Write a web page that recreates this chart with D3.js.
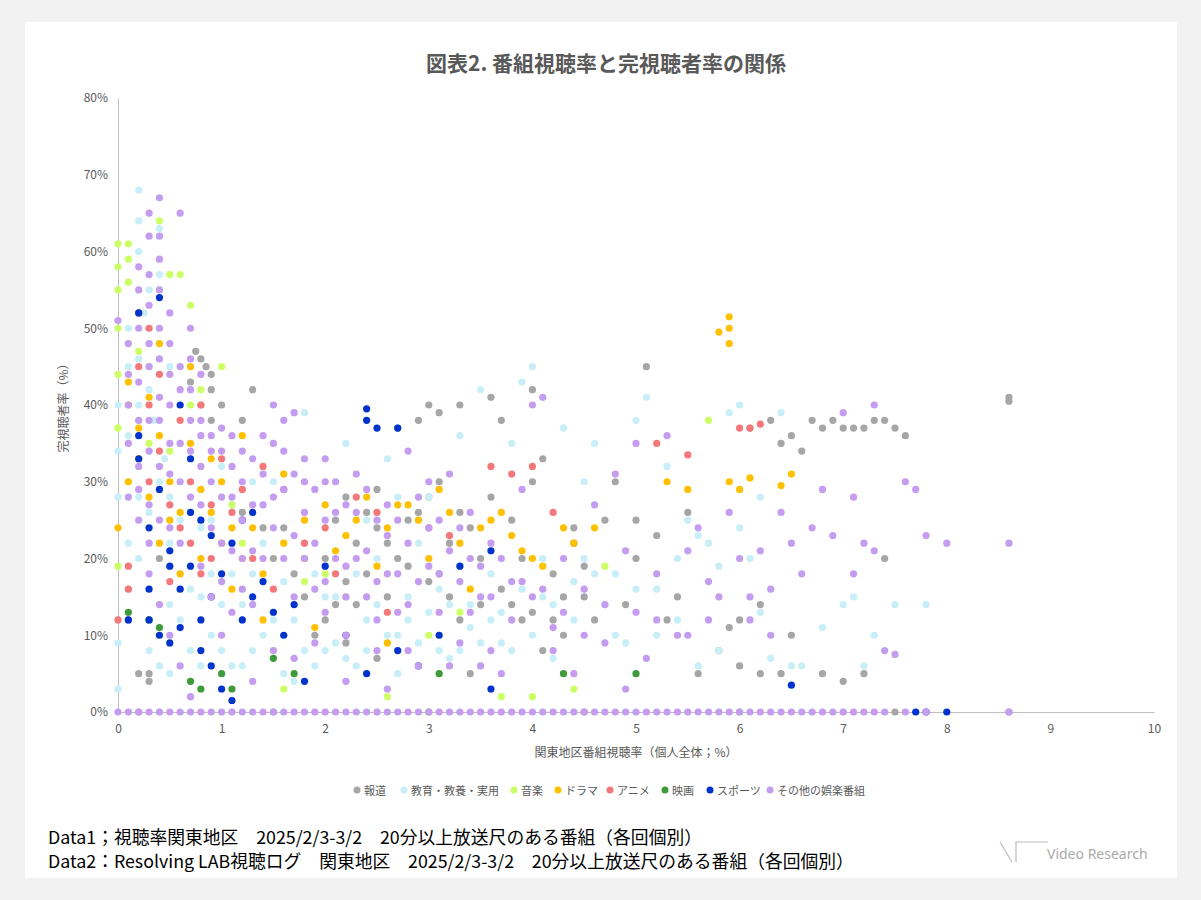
<!DOCTYPE html>
<html><head><meta charset="utf-8">
<script src="https://cdn.jsdelivr.net/npm/d3@7"></script>
<style>
body{margin:0;background:#f2f2f2;font-family:"Noto Sans CJK JP","Noto Sans",sans-serif;}
</style></head><body>
<svg id="c" width="1201" height="900"></svg>
<script>
// values: [viewing rate %, completion rate %]
var news = [[0.1,12],[0.2,5],[0.3,5],[0.3,4],[0.4,20],[0.8,46],[0.85,45],[0.9,44],[0.9,42],[0.7,43],[0.75,47],[1.2,26],[1.2,38],[1.3,42],[1.5,20],[1.8,15],[2.0,12],[2.1,25],[2.2,28],[2.3,22],[2.4,18],[2.5,29],[2.6,15],[2.7,37],[2.8,25],[2.9,38],[3.0,40],[3.1,39],[3.1,30],[3.2,15],[3.3,40],[3.5,20],[3.6,41],[3.7,38],[3.8,25],[3.9,12],[4.0,42],[4.0,30],[4.1,33],[4.2,18],[4.3,10],[4.4,24],[4.5,15],[4.7,25],[4.8,30],[4.9,14],[5.0,20],[5.1,45],[5.2,23],[5.3,12],[5.5,26],[5.6,5],[5.8,8],[6.0,6],[6.1,37],[6.3,38],[6.4,35],[6.5,36],[6.6,34],[6.7,38],[6.8,37],[6.9,38],[7.0,37],[7.1,37],[7.2,37],[7.3,38],[7.4,38],[7.5,37],[7.6,36],[7.0,4],[7.2,5],[6.8,5],[6.5,10],[8.6,40.5],[8.6,41],[3.4,5],[2.5,7],[3.0,17],[3.2,22],[2.3,14],[3.6,28],[4.1,8],[2.0,20],[1.9,10],[2.8,19],[3.3,12],[4.6,12],[5.4,15],[6.2,14],[6.4,5],[7.4,20],[2.2,9],[1.6,24],[1.0,40],
  [2.4,26],[2.5,24],[2.6,22],[2.7,20],[2.9,26],[3.0,28],[3.1,18],[3.3,26],[3.4,24],[3.5,14],[3.7,16],[3.8,14],[3.9,20],[4.0,13],[4.2,12],[4.3,15],[4.4,22],[4.5,19],[2.1,14],[2.2,17],[1.4,24],[1.7,18],[0.9,38],[0.8,40],[6.0,12],[6.2,5],[5.0,25],[5.9,11]];
var edu = [[0,3],[0,9],[0,12],[0,28],[0,34],[0,40],[0.1,45],[0.1,50],[0.1,56],[0.2,68],[0.2,64],[0.2,60],[0.25,52],[0.3,48],[0.3,42],[0.35,38],[0.4,63],[0.4,57],[0.45,33],[0.5,28],[0.5,22],[0.6,18],[0.6,12],[0.7,8],[0.7,4],[0.8,15],[0.9,25],[0.9,10],[1.0,32],[1.1,18],[1.1,6],[1.2,14],[1.3,8],[1.4,22],[1.5,30],[1.6,5],[1.7,12],[1.8,39],[1.9,18],[2.0,8],[2.1,15],[2.2,35],[2.3,6],[2.4,12],[2.5,20],[2.6,33],[2.7,10],[2.8,15],[2.9,22],[3.0,28],[3.1,8],[3.2,14],[3.3,36],[3.4,11],[3.5,42],[3.6,18],[3.7,9],[3.8,35],[3.9,43],[4.0,45],[4.1,15],[4.2,7],[4.3,37],[4.4,12],[4.5,20],[4.6,35],[4.7,14],[4.8,18],[4.9,9],[5.0,38],[5.1,41],[5.2,16],[5.3,32],[5.4,12],[5.6,6],[5.7,22],[5.8,8],[5.9,39],[6.0,40],[6.1,20],[6.2,13],[6.3,7],[6.4,39],[6.6,6],[6.8,11],[7.0,14],[7.1,15],[7.3,10],[7.5,14],[7.8,14],[2.4,25],[3.3,19],[3.6,12],[1.3,30],[2.7,28],[4.5,30],[5.5,25],
  [0.1,36],[0.1,30],[0.1,22],[0.1,16],[0.2,46],[0.2,40],[0.2,28],[0.2,20],[0.3,55],[0.3,34],[0.3,26],[0.3,8],[0.4,48],[0.4,30],[0.4,6],[0.5,45],[0.5,14],[0.5,5],[0.6,35],[0.6,25],[0.7,30],[0.7,16],[0.8,24],[0.8,6],[0.9,18],[1.0,14],[1.0,8],[1.1,27],[1.2,6],[1.3,18],[1.4,10],[1.5,12],[1.6,17],[1.7,4],[1.8,8],[1.9,6],[2.0,15],[2.1,9],[2.2,7],[2.3,18],[2.4,8],[2.5,14],[2.6,10],[2.7,5],[2.8,12],[2.9,9],[3.0,13],[3.1,16],[3.2,7],[3.3,8],[3.4,14],[3.5,9],[3.7,13],[3.8,8],[3.9,16],[4.0,10],[4.1,20],[4.2,14],[4.4,17],[4.6,18],[4.8,10],[5.0,16],[5.2,10],[5.4,20],[5.6,23],[5.8,19],[6.0,24],[6.2,28],[6.5,6],[7.2,6]];
var music = [[0,61],[0,58],[0,55],[0,50],[0,44],[0,37],[0,19],[0.1,61],[0.1,59],[0.1,56],[0.2,47],[0.3,35],[0.4,64],[0.5,57],[0.6,57],[0.7,53],[0.8,42],[1.0,45],[1.1,27],[1.5,8],[1.6,3],[2.0,18],[2.6,2],[3.0,10],[3.7,2],[4.0,2],[4.4,3],[4.7,19],[5.7,38],[0.2,38],[0.3,45],[0.5,34],[0.7,40],[1.2,22],[1.8,17],[2.2,15],[3.3,13]];
var drama = [[0,24],[0.1,43],[0.1,30],[0.2,37],[0.3,28],[0.4,48],[0.4,36],[0.5,25],[0.6,18],[0.7,45],[0.8,29],[0.9,33],[1.0,22],[1.1,16],[1.2,36],[1.3,24],[1.4,12],[1.6,31],[1.8,20],[2.0,27],[2.2,23],[2.4,28],[2.5,19],[2.7,27],[2.9,25],[3.1,29],[3.3,22],[3.5,24],[3.7,26],[3.9,21],[4.1,19],[4.3,24],[4.6,24],[5.3,30],[5.5,29],[5.8,49.5],[5.9,51.5],[5.9,50],[5.9,48],[5.9,30],[6.0,29],[6.1,30.5],[6.4,29.5],[6.5,31],[1.9,11],[2.6,9],[3.4,16],
  [0.1,40],[0.2,33],[0.3,41],[0.4,22],[0.5,30],[0.6,26],[0.7,35],[0.8,20],[0.9,26],[1.0,30],[1.1,24],[1.2,20],[1.4,18],[1.6,22],[1.8,25],[2.1,21],[2.3,25],[2.6,24],[2.8,27],[3.0,20],[3.2,26],[3.6,25],[3.8,23],[4.0,20],[4.4,22]];
var anime = [[0,12],[0.1,19],[0.2,52],[0.3,50],[0.3,30],[0.4,44],[0.5,17],[0.6,38],[0.7,22],[0.8,40],[0.9,27],[1.0,33],[1.2,29],[1.4,32],[1.6,29],[1.8,22],[2.1,18],[2.3,28],[2.6,13],[3.2,23],[3.6,32],[3.8,31],[4.0,32],[4.2,26],[5.2,35],[5.5,33.5],[6.0,37],[6.1,37],[6.2,37.5],
  [0.1,16],[0.2,45],[0.3,40],[0.4,34],[0.5,27],[0.6,24],[0.7,30],[0.8,18],[0.9,20],[1.1,26],[1.3,20],[1.5,16],[2.0,24],[2.5,26],[3.0,24]];
var movie = [[0.1,13],[0.3,12],[0.4,11],[0.7,4],[0.8,3],[1.0,5],[1.1,3],[1.5,7],[1.7,5],[3.1,5],[4.3,5],[5.0,5]];
var sports = [[0.1,12],[0.2,52],[0.2,36],[0.3,24],[0.3,12],[0.4,54],[0.4,29],[0.5,19],[0.5,9],[0.6,40],[0.6,16],[0.7,33],[0.7,26],[0.8,12],[0.8,8],[0.9,23],[0.9,6],[1.0,3],[1.1,22],[1.1,1.5],[1.2,25],[1.3,15],[1.4,17],[1.5,13],[1.7,14],[1.8,4],[2.0,19],[2.2,10],[2.4,5],[2.4,38],[2.4,39.5],[2.5,37],[2.7,37],[2.7,8],[3.3,19],[3.6,21],[3.6,3],[6.5,3.5],[7.7,0],[7.8,0],[8.0,0],
  [0.2,33],[0.3,16],[0.4,10],[0.5,21],[0.6,11],[0.7,19],[0.8,25],[0.9,15],[1.0,18],[1.2,12],[1.3,26],[1.6,10],[2.9,6],[3.1,10]];
var other = [[0,51],[0.1,48],[0.2,55],[0.3,65],[0.3,62],[0.4,67],[0.4,59],[0.5,52],[0.6,65],[0.7,50],[0.1,40],[0.2,32],[0.3,45],[0.4,41],[0.5,35],[0.6,30],[0.7,38],[0.8,36],[0.9,30],[0.2,25],[0.3,18],[0.4,14],[0.5,10],[0.6,6],[0.7,2],[0.8,19],[0.9,15],[1.0,28],[1.0,10],[1.1,36],[1.2,20],[1.3,14],[1.4,27],[1.5,40],[1.6,34],[1.7,23],[1.8,30],[1.9,9],[2.0,33],[2.1,26],[2.2,15],[2.3,31],[2.4,21],[2.5,12],[2.6,27],[2.7,18],[2.8,34],[2.9,6],[3.0,24],[3.1,13],[3.2,31],[3.3,9],[3.4,26],[3.5,15],[3.6,22],[3.7,5],[3.8,17],[3.9,29],[4.0,40],[4.1,41],[4.2,11],[4.3,20],[4.4,5],[4.5,16],[4.6,27],[4.7,9],[4.8,31],[4.9,21],[5.0,35],[5.1,7],[5.2,18],[5.3,36],[5.4,10],[5.5,21],[5.6,24],[5.7,17],[5.8,15],[5.9,26],[6.0,20],[6.1,12],[6.2,21],[6.3,16],[6.4,26],[6.5,22],[6.6,18],[6.7,24],[6.8,29],[6.9,23],[7.0,39],[7.1,28],[7.1,18],[7.2,22],[7.3,40],[7.3,21],[7.4,8],[7.5,7.5],[7.6,30],[7.7,29],[7.8,23],[8.0,22],[8.6,22],[2.2,4],[2.6,3],[1.7,7],[3.5,6],[4.9,3],[2.0,13],
  [0.1,44],[0.1,35],[0.1,28],[0.2,58],[0.2,50],[0.2,43],[0.2,38],[0.2,29],[0.3,57],[0.3,53],[0.3,48],[0.3,38],[0.3,34],[0.3,27],[0.3,22],[0.4,62],[0.4,55],[0.4,50],[0.4,46],[0.4,38],[0.4,32],[0.4,25],[0.5,48],[0.5,44],[0.5,40],[0.5,31],[0.5,24],[0.6,45],[0.6,42],[0.6,35],[0.6,22],[0.7,46],[0.7,42],[0.7,34],[0.7,28],[0.8,44],[0.8,38],[0.8,32],[0.8,27],[0.9,36],[0.9,34],[0.9,24],[1.0,37],[1.0,34],[1.0,22],[1.0,17],[1.1,32],[1.1,28],[1.1,21],[1.1,13],[1.2,34],[1.2,30],[1.2,25],[1.2,16],[1.3,33],[1.3,27],[1.3,21],[1.4,36],[1.4,31],[1.4,20],[1.5,35],[1.5,28],[1.5,24],[1.6,38],[1.6,29],[1.6,20],[1.7,39],[1.7,31],[1.7,15],[1.8,33],[1.8,26],[1.8,20],[1.9,29],[1.9,22],[1.9,16],[2.0,30],[2.0,25],[2.0,17],[2.1,30],[2.1,20],[2.2,27],[2.2,19],[2.3,26],[2.3,20],[2.4,29],[2.4,15],[2.5,25],[2.5,17],[2.6,23],[2.6,18],[2.7,25],[2.7,13],[2.8,22],[2.8,14],[2.9,28],[2.9,17],[3.0,30],[3.0,19],[3.1,25],[3.1,18],[3.2,21],[3.3,24],[3.3,17],[3.4,20],[3.4,13],[3.5,19],[3.6,15],[3.7,20],[3.8,12],[3.9,17],[4.0,15],[4.1,16],[4.2,8],[4.3,13],[4.5,10],[4.7,14],[5.0,13],[5.2,12],[5.5,10],[5.7,12],[6.1,15],[6.3,10],[2.2,10],[2.5,8],[2.8,8],[3.2,6],[3.6,8],[1.5,8],[1.3,4]];
var otherZeroX = [0,0.1,0.2,0.3,0.4,0.5,0.6,0.7,0.8,0.9,1.0,1.2,1.4,1.6,1.8,2.0,2.2,2.4,2.6,2.8,3.0,3.2,3.4,3.6,3.8,4.0,4.2,4.4,4.6,4.8,5.0,5.2,5.4,5.6,5.8,6.0,6.2,6.4,6.6,6.8,7.0,7.2,7.4,7.6,7.8,8.6,1.1,1.3,1.5,1.7,1.9,2.1,2.3,2.5,2.7,2.9,3.1,3.3,3.5,3.7,3.9,4.1,4.3,4.5,4.7,4.9,5.1,5.3,5.5,5.7,5.9,6.1,6.3,6.5,6.7,6.9,7.1,7.3];
var seriesNames = ["報道","教育・教養・実用","音楽","ドラマ","アニメ","映画","スポーツ","その他の娯楽番組"];
var seriesColors = ["#a6a6a6","#c8eef7","#ccff66","#ffc000","#f4787a","#3f9a3a","#0033cc","#c49cf0"];
var xTicks = d3.range(0, 11);
var yTicks = d3.range(0, 81, 10);

var svg = d3.select("#c");
svg.append("rect").attr("x",25).attr("y",22).attr("width",1152).attr("height",856).attr("fill","#fff");

var x = d3.scaleLinear().domain([0,10]).range([118,1154]);
var y = d3.scaleLinear().domain([0,80]).range([712,98]);

svg.append("text").attr("x",606).attr("y",71).attr("text-anchor","middle")
  .attr("font-size",21).attr("font-weight","bold").attr("fill","#595959").text("図表2. 番組視聴率と完視聴者率の関係");

var gx = svg.append("g").attr("transform","translate(0,712)")
  .call(d3.axisBottom(x).tickValues(xTicks).tickSize(0).tickPadding(12));
gx.select(".domain").attr("stroke","#bfbfbf");
var gy = svg.append("g").attr("transform","translate(118,0)")
  .call(d3.axisLeft(y).tickValues(yTicks).tickSize(0).tickPadding(10).tickFormat(function(d){return d+"%";}));
gy.select(".domain").attr("stroke","#bfbfbf");
svg.selectAll(".tick text").attr("font-size",12).attr("fill","#595959").attr("font-family","Noto Sans CJK JP");

var allSeries = [news, edu, music, drama, anime, movie, sports,
  other.concat(otherZeroX.map(function(v){return [v,0];}))];
// zero-row points for the other categories
var zeroRows = [[0.2,1.5,3,4.5,6,7.5,8.6],[0.4,1.1,2.5,3.8,5.5,7],[],[],[],[],[]];
zeroRows.forEach(function(r,i){ r.forEach(function(v){ allSeries[i].push([v,0]); }); });

var plot = svg.append("g");
allSeries.forEach(function(s,i){
  plot.selectAll(null).data(s).enter().append("circle")
    .attr("cx",function(d){return x(d[0]);}).attr("cy",function(d){return y(d[1]);})
    .attr("r",3.6).attr("fill",seriesColors[i]);
});

svg.append("text").attr("transform","translate(68,405) rotate(-90)").attr("text-anchor","middle")
  .attr("font-size",12).attr("fill","#595959").text("完視聴者率（%）");
svg.append("text").attr("x",636).attr("y",757).attr("text-anchor","middle")
  .attr("font-size",12).attr("fill","#595959").text("関東地区番組視聴率（個人全体；%）");

var legX = [357,404,514,558,610,665,710,770];
var leg = svg.append("g");
seriesNames.forEach(function(n,i){
  leg.append("circle").attr("cx",legX[i]).attr("cy",790).attr("r",3.5).attr("fill",seriesColors[i]);
  leg.append("text").attr("x",legX[i]+7).attr("y",794.5).attr("font-size",11).attr("fill","#595959").text(n);
});

svg.append("text").attr("x",48).attr("y",844).attr("font-size",17.8).attr("fill","#000")
  .text("Data1；視聴率関東地区　2025/2/3-3/2　20分以上放送尺のある番組（各回個別）");
svg.append("text").attr("x",48).attr("y",868).attr("font-size",17.8).attr("fill","#000")
  .text("Data2：Resolving LAB視聴ログ　関東地区　2025/2/3-3/2　20分以上放送尺のある番組（各回個別）");

// logo
svg.append("path").attr("d","M1000,842 L1012,862 M1016,862 L1016,842 L1048,842").attr("stroke","#bbb").attr("fill","none").attr("stroke-width",1.2);
svg.append("text").attr("x",1047).attr("y",859).attr("font-size",14).attr("fill","#aaa")
  .attr("font-family","Noto Sans").text("Video Research");
</script></body></html>
